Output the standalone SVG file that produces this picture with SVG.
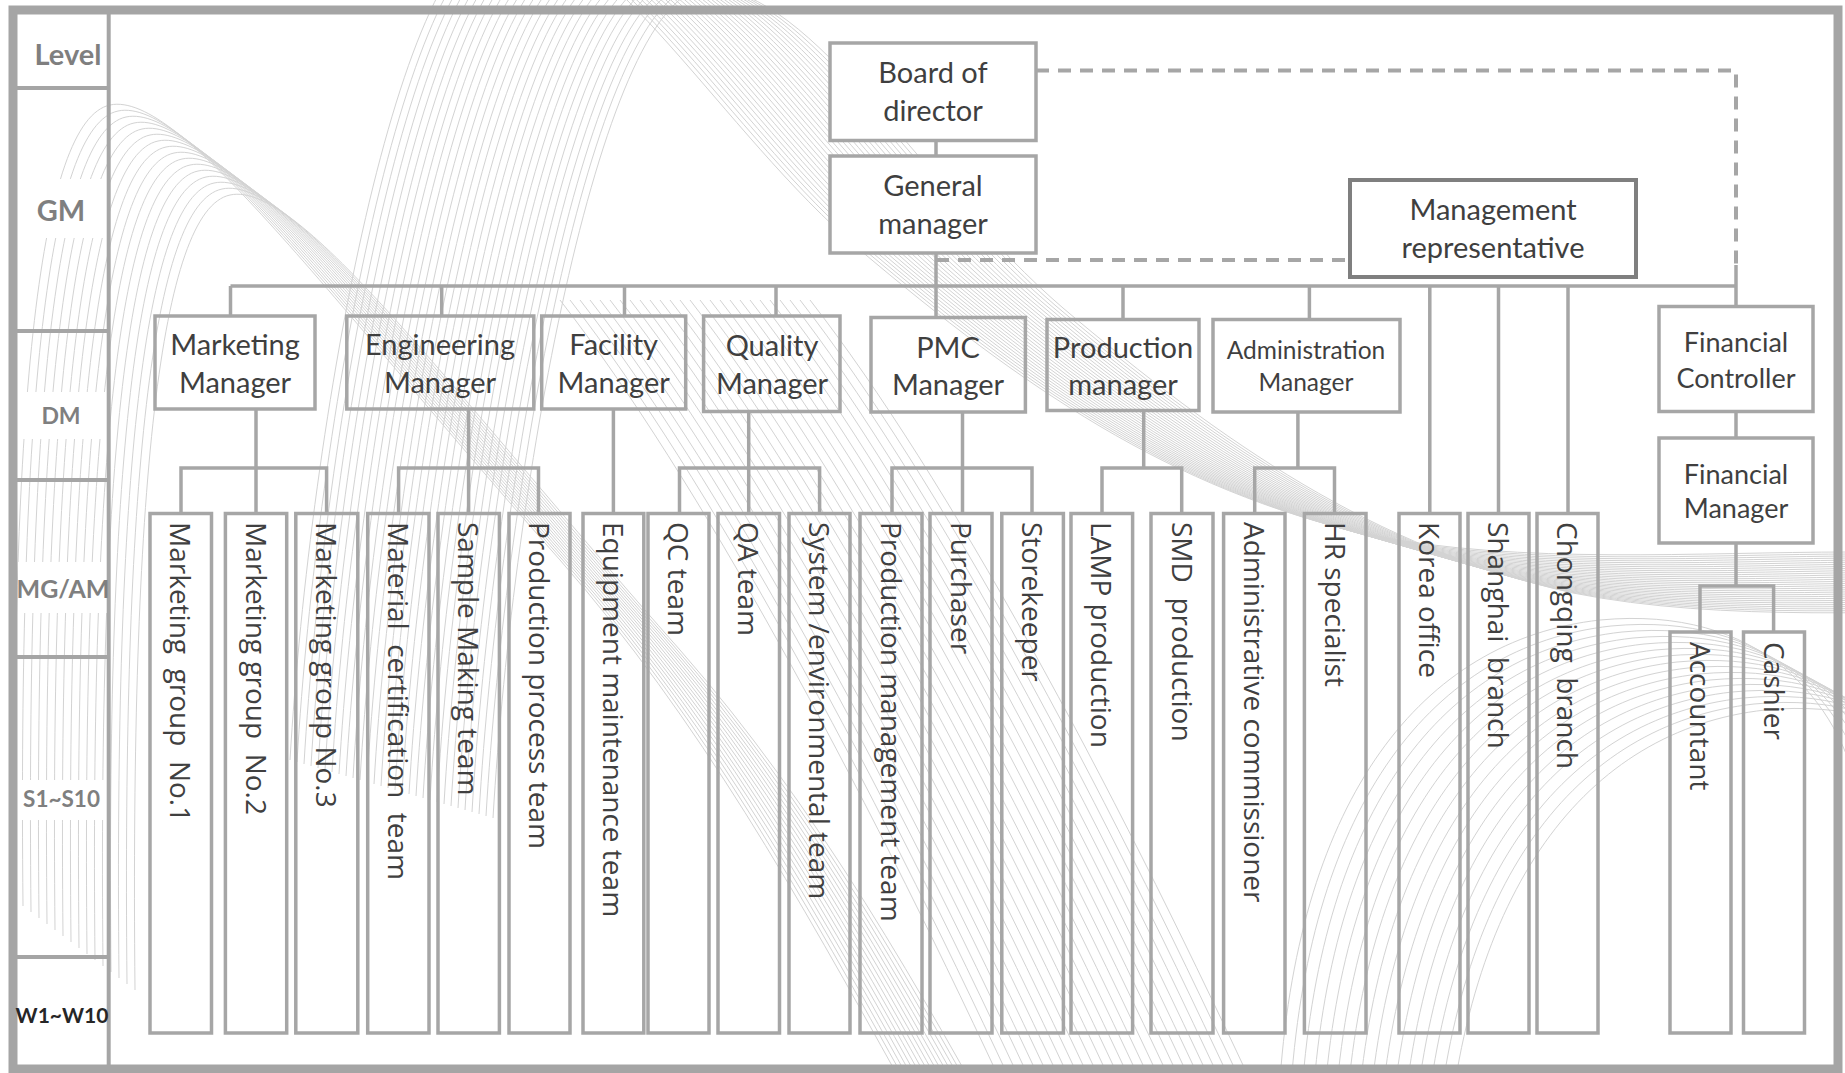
<svg xmlns="http://www.w3.org/2000/svg" xmlns:xlink="http://www.w3.org/1999/xlink" width="1845" height="1073" viewBox="0 0 1845 1073">
<style>
  .bg{fill:none;stroke:#d3d3d3;stroke-width:1}
  .frame{fill:none;stroke:#a5a5a5}
  .box{fill:none;stroke:#a6a6a6;stroke-width:3.5}
  .wbox{fill:#ffffff;stroke:#a6a6a6;stroke-width:3.5}
  .ln{fill:none;stroke:#a6a6a6;stroke-width:3.5}
  .dash{fill:none;stroke:#a6a6a6;stroke-width:4;stroke-dasharray:13 9}
  .t{font-family:Lato,"Open Sans",sans-serif;font-size:29px;fill:#3f3f3f;text-anchor:middle}
  .v{font-family:"Open Sans","Noto Sans",sans-serif;font-size:28px;fill:#404040;white-space:pre}
  .lv{font-family:Lato,"Open Sans",sans-serif;font-weight:bold;fill:#7f7f7f;text-anchor:middle}
</style>
<defs>
  <path id="pa" d="M15,900 C10,400 40,120 110,105 C180,90 330,300 560,560 C700,720 800,900 900,1080"/>
  <path id="pb" d="M290,760 C310,420 400,-70 505,-70 C610,-70 720,130 860,250 C1020,385 1170,490 1370,535 C1520,565 1700,552 1850,552"/>
  <path id="pc" d="M1280,1080 C1300,800 1420,640 1600,620 C1760,605 1840,700 1860,800"/>
  <path id="pd" d="M560,300 C700,480 860,780 1000,1080"/>
</defs>

<g id="background" class="bg">
  <use xlink:href="#pa"/>
  <use xlink:href="#pa" transform="translate(8,6)"/>
  <use xlink:href="#pa" transform="translate(16,12)"/>
  <use xlink:href="#pa" transform="translate(24,18)"/>
  <use xlink:href="#pa" transform="translate(32,24)"/>
  <use xlink:href="#pa" transform="translate(40,30)"/>
  <use xlink:href="#pa" transform="translate(48,36)"/>
  <use xlink:href="#pa" transform="translate(56,42)"/>
  <use xlink:href="#pa" transform="translate(64,48)"/>
  <use xlink:href="#pa" transform="translate(72,54)"/>
  <use xlink:href="#pa" transform="translate(80,60)"/>
  <use xlink:href="#pa" transform="translate(88,66)"/>
  <use xlink:href="#pa" transform="translate(96,72)"/>
  <use xlink:href="#pa" transform="translate(104,78)"/>
  <use xlink:href="#pa" transform="translate(112,84)"/>
  <use xlink:href="#pa" transform="translate(120,90)"/>
  <use xlink:href="#pb"/>
  <use xlink:href="#pb" transform="translate(7,2)"/>
  <use xlink:href="#pb" transform="translate(14,4)"/>
  <use xlink:href="#pb" transform="translate(21,6)"/>
  <use xlink:href="#pb" transform="translate(28,8)"/>
  <use xlink:href="#pb" transform="translate(35,10)"/>
  <use xlink:href="#pb" transform="translate(42,12)"/>
  <use xlink:href="#pb" transform="translate(49,14)"/>
  <use xlink:href="#pb" transform="translate(56,16)"/>
  <use xlink:href="#pb" transform="translate(63,18)"/>
  <use xlink:href="#pb" transform="translate(70,20)"/>
  <use xlink:href="#pb" transform="translate(77,22)"/>
  <use xlink:href="#pb" transform="translate(84,24)"/>
  <use xlink:href="#pb" transform="translate(91,26)"/>
  <use xlink:href="#pb" transform="translate(98,28)"/>
  <use xlink:href="#pb" transform="translate(105,30)"/>
  <use xlink:href="#pb" transform="translate(112,32)"/>
  <use xlink:href="#pb" transform="translate(119,34)"/>
  <use xlink:href="#pb" transform="translate(126,36)"/>
  <use xlink:href="#pb" transform="translate(133,38)"/>
  <use xlink:href="#pb" transform="translate(140,40)"/>
  <use xlink:href="#pb" transform="translate(147,42)"/>
  <use xlink:href="#pb" transform="translate(154,44)"/>
  <use xlink:href="#pb" transform="translate(161,46)"/>
  <use xlink:href="#pb" transform="translate(168,48)"/>
  <use xlink:href="#pb" transform="translate(175,50)"/>
  <use xlink:href="#pb" transform="translate(182,52)"/>
  <use xlink:href="#pb" transform="translate(189,54)"/>
  <use xlink:href="#pb" transform="translate(196,56)"/>
  <use xlink:href="#pb" transform="translate(203,58)"/>
  <use xlink:href="#pc"/>
  <use xlink:href="#pc" transform="translate(11,6)"/>
  <use xlink:href="#pc" transform="translate(22,12)"/>
  <use xlink:href="#pc" transform="translate(33,18)"/>
  <use xlink:href="#pc" transform="translate(44,24)"/>
  <use xlink:href="#pc" transform="translate(55,30)"/>
  <use xlink:href="#pc" transform="translate(66,36)"/>
  <use xlink:href="#pc" transform="translate(77,42)"/>
  <use xlink:href="#pc" transform="translate(88,48)"/>
  <use xlink:href="#pc" transform="translate(99,54)"/>
  <use xlink:href="#pc" transform="translate(110,60)"/>
  <use xlink:href="#pc" transform="translate(121,66)"/>
  <use xlink:href="#pc" transform="translate(132,72)"/>
  <use xlink:href="#pc" transform="translate(143,78)"/>
  <use xlink:href="#pc" transform="translate(154,84)"/>
  <use xlink:href="#pc" transform="translate(165,90)"/>
  <use xlink:href="#pd"/>
  <use xlink:href="#pd" transform="translate(10,0)"/>
  <use xlink:href="#pd" transform="translate(20,0)"/>
  <use xlink:href="#pd" transform="translate(30,0)"/>
  <use xlink:href="#pd" transform="translate(40,0)"/>
  <use xlink:href="#pd" transform="translate(50,0)"/>
  <use xlink:href="#pd" transform="translate(60,0)"/>
  <use xlink:href="#pd" transform="translate(70,0)"/>
  <use xlink:href="#pd" transform="translate(80,0)"/>
  <use xlink:href="#pd" transform="translate(90,0)"/>
  <use xlink:href="#pd" transform="translate(100,0)"/>
  <use xlink:href="#pd" transform="translate(110,0)"/>
  <use xlink:href="#pd" transform="translate(120,0)"/>
  <use xlink:href="#pd" transform="translate(130,0)"/>
  <use xlink:href="#pd" transform="translate(140,0)"/>
  <use xlink:href="#pd" transform="translate(150,0)"/>
  <use xlink:href="#pd" transform="translate(160,0)"/>
  <use xlink:href="#pd" transform="translate(170,0)"/>
  <use xlink:href="#pd" transform="translate(180,0)"/>
  <use xlink:href="#pd" transform="translate(190,0)"/>
  <use xlink:href="#pd" transform="translate(200,0)"/>
  <use xlink:href="#pd" transform="translate(210,0)"/>
  <use xlink:href="#pd" transform="translate(220,0)"/>
  <use xlink:href="#pd" transform="translate(230,0)"/>
  <use xlink:href="#pd" transform="translate(240,0)"/>
  <use xlink:href="#pd" transform="translate(250,0)"/>
</g>

<g id="level-column">
  <rect x="18" y="179" width="89" height="59" fill="#ffffff"/>
  <rect x="18" y="392" width="89" height="47" fill="#ffffff"/>
  <rect x="18" y="562" width="89" height="51" fill="#ffffff"/>
  <rect x="18" y="780" width="89" height="40" fill="#ffffff"/>
  <rect x="13" y="10" width="1825" height="1059" class="frame" stroke-width="9"/>
  <path class="frame" stroke-width="4" d="M108.7,10 V1069 M13,88 H108.7 M13,331 H108.7 M13,480 H108.7 M13,657 H108.7 M13,957 H108.7"/>
  <text class="lv" x="68" y="65" font-size="29">Level</text>
  <text class="lv" x="61" y="220.5" font-size="29">GM</text>
  <text class="lv" x="61" y="423.5" font-size="23">DM</text>
  <text class="lv" x="63" y="598" font-size="25">MG/AM</text>
  <text class="lv" x="61.5" y="807" font-size="22.5">S1~S10</text>
  <text class="lv" x="62" y="1022.5" font-size="21" style="fill:#262626">W1~W10</text>
</g>

<g id="connectors">
  <path class="ln" d="M936,140 V156 M936,253 V317.5 M230.5,286 H1736 M230.5,286 V316 M441.7,286 V316 M624.5,286 V316 M776,286 V316 M1123,286 V319.5 M1309.4,286 V319.5 M1429.8,286 V513.5 M1498.5,286 V513.5 M1568,286 V513.5 M1736,265 V306.5 M1736,411.5 V438"/>
  <path class="dash" d="M1036,70.5 H1736 V265"/>
  <path class="dash" d="M936,260 H1350"/>
  <path class="ln" d="M256,409 V513.5 M181,513.5 V468 H326.6 V513.5"/>
  <path class="ln" d="M468.6,409 V513.5 M398.6,513.5 V468 H538.5 V513.5"/>
  <path class="ln" d="M613.4,409 V513.5"/>
  <path class="ln" d="M748.7,411.5 V513.5 M679.5,513.5 V468 H819.6 V513.5"/>
  <path class="ln" d="M962.5,412 V513.5 M892,513.5 V468 H1032 V513.5"/>
  <path class="ln" d="M1143.7,410.5 V468 M1102,513.5 V468 H1181.7 V513.5"/>
  <path class="ln" d="M1297.9,412 V468 M1254.7,513.5 V468 H1334.5 V513.5"/>
  <path class="ln" d="M1736,543 V586 M1700,632 V586 H1773.6 V632"/>
</g>

<g id="n-board"><rect class="wbox" x="830" y="43" width="206" height="97.5"/>
  <text class="t" x="933" y="83">Board of</text><text class="t" x="933" y="121">director</text></g>
<g id="n-gm"><rect class="wbox" x="830" y="156" width="206" height="97"/>
  <text class="t" x="933" y="196">General</text><text class="t" x="933" y="234">manager</text></g>
<g id="n-mr"><rect x="1350" y="180" width="286" height="97" fill="#ffffff" stroke="#7f7f7f" stroke-width="4"/>
  <text class="t" x="1493" y="220">Management</text><text class="t" x="1493" y="258">representative</text></g>

<g id="n-mkt"><rect class="box" x="155" y="316" width="160" height="93"/>
  <text class="t" x="235" y="355">Marketing</text><text class="t" x="235" y="393">Manager</text></g>
<g id="n-eng"><rect class="box" x="346.8" y="316" width="187" height="93"/>
  <text class="t" x="440" y="355">Engineering</text><text class="t" x="440" y="393">Manager</text></g>
<g id="n-fac"><rect class="box" x="541.7" y="316" width="144" height="93"/>
  <text class="t" x="613.7" y="355">Facility</text><text class="t" x="613.7" y="393">Manager</text></g>
<g id="n-qua"><rect class="box" x="703.6" y="316" width="136.4" height="95.5"/>
  <text class="t" x="772" y="356">Quality</text><text class="t" x="772" y="394">Manager</text></g>
<g id="n-pmc"><rect class="box" x="871" y="317.5" width="154.4" height="94.5"/>
  <text class="t" x="948" y="358">PMC</text><text class="t" x="948" y="395">Manager</text></g>
<g id="n-prod"><rect class="box" x="1047" y="319.5" width="152" height="91"/>
  <text class="t" x="1123" y="358">Production</text><text class="t" x="1123" y="395">manager</text></g>
<g id="n-adm"><rect class="box" x="1213" y="319.5" width="187" height="92.5"/>
  <text class="t" x="1306" y="359" style="font-size:24.5px">Administration</text><text class="t" x="1306" y="391" style="font-size:24.5px">Manager</text></g>
<g id="n-fc"><rect class="wbox" x="1659" y="306.5" width="154" height="105"/>
  <text class="t" x="1736" y="352" style="font-size:27px">Financial</text><text class="t" x="1736" y="387.5" style="font-size:27px">Controller</text></g>
<g id="n-fm"><rect class="wbox" x="1659" y="438" width="154" height="105"/>
  <text class="t" x="1736" y="484" style="font-size:27px">Financial</text><text class="t" x="1736" y="518" style="font-size:27px">Manager</text></g>

<g id="n-c1"><rect class="box" x="150" y="513.5" width="61.5" height="519.5"/><text class="v" transform="translate(170.3,522) rotate(90)">Marketing  group  No.1</text></g>
<g id="n-c2"><rect class="box" x="225.4" y="513.5" width="61.3" height="519.5"/><text class="v" transform="translate(245.5,522) rotate(90)">Marketing group  No.2</text></g>
<g id="n-c3"><rect class="box" x="295.8" y="513.5" width="62" height="519.5"/><text class="v" transform="translate(316.3,522) rotate(90)">Marketing group No.3</text></g>
<g id="n-c4"><rect class="box" x="367.7" y="513.5" width="61.3" height="519.5"/><text class="v" transform="translate(387.9,522) rotate(90)">Material  certification  team</text></g>
<g id="n-c5"><rect class="box" x="438" y="513.5" width="61.4" height="519.5"/><text class="v" transform="translate(458.2,522) rotate(90)">Sample Making team</text></g>
<g id="n-c6"><rect class="box" x="509" y="513.5" width="61" height="519.5"/><text class="v" transform="translate(529,522) rotate(90)">Production process team</text></g>
<g id="n-c7"><rect class="box" x="583" y="513.5" width="60.8" height="519.5"/><text class="v" transform="translate(602.9,522) rotate(90)">Equipment maintenance team</text></g>
<g id="n-c8"><rect class="box" x="648" y="513.5" width="61" height="519.5"/><text class="v" transform="translate(668,522) rotate(90)">QC team</text></g>
<g id="n-c9"><rect class="box" x="718" y="513.5" width="61.5" height="519.5"/><text class="v" transform="translate(738.3,522) rotate(90)">QA team</text></g>
<g id="n-c10"><rect class="box" x="789" y="513.5" width="61" height="519.5"/><text class="v" transform="translate(809,522) rotate(90)">System /environmental team</text></g>
<g id="n-c11"><rect class="box" x="860" y="513.5" width="62" height="519.5"/><text class="v" transform="translate(880.5,522) rotate(90)">Production management team</text></g>
<g id="n-c12"><rect class="box" x="930" y="513.5" width="62" height="519.5"/><text class="v" transform="translate(950.5,522) rotate(90)">Purchaser</text></g>
<g id="n-c13"><rect class="box" x="1001.8" y="513.5" width="61.6" height="519.5"/><text class="v" transform="translate(1022.1,522) rotate(90)">Storekeeper</text></g>
<g id="n-c14"><rect class="box" x="1071" y="513.5" width="61.6" height="519.5"/><text class="v" transform="translate(1091.3,522) rotate(90)">LAMP production</text></g>
<g id="n-c15"><rect class="box" x="1151" y="513.5" width="62" height="519.5"/><text class="v" transform="translate(1171.5,522) rotate(90)">SMD  production</text></g>
<g id="n-c16"><rect class="box" x="1223.6" y="513.5" width="61.4" height="519.5"/><text class="v" transform="translate(1243.8,522) rotate(90)">Administrative commissioner</text></g>
<g id="n-c17"><rect class="box" x="1304.4" y="513.5" width="61.6" height="519.5"/><text class="v" transform="translate(1324.7,522) rotate(90)">HR specialist</text></g>
<g id="n-c18"><rect class="box" x="1399" y="513.5" width="61" height="519.5"/><text class="v" transform="translate(1419,522) rotate(90)">Korea office</text></g>
<g id="n-c19"><rect class="box" x="1468" y="513.5" width="61" height="519.5"/><text class="v" transform="translate(1488,522) rotate(90)">Shanghai  branch</text></g>
<g id="n-c20"><rect class="box" x="1537" y="513.5" width="61" height="519.5"/><text class="v" transform="translate(1557,522) rotate(90)">Chongqing  branch</text></g>
<g id="n-c21"><rect class="box" x="1670" y="632" width="61" height="401"/><text class="v" transform="translate(1690,642) rotate(90)">Accountant</text></g>
<g id="n-c22"><rect class="box" x="1743.5" y="632" width="61" height="401"/><text class="v" transform="translate(1763.5,642) rotate(90)">Cashier</text></g>
</svg>
